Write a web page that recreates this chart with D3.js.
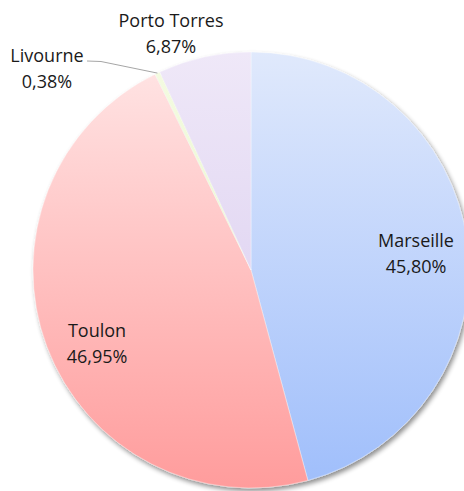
<!DOCTYPE html>
<html lang="fr">
<head>
    <meta charset="UTF-8">
    <title>Répartition par port</title>
    <script src="https://d3js.org/d3.v7.min.js"></script>
    <style>
        body { margin: 0; background: #fff; }
        text { font-family: "Open Sans", sans-serif; font-size: 18px; fill: #1a1a1a; }
    </style>
</head>
<body>
    <svg width="464" height="491"></svg>
    <script>
        // data
        const ports = ["Marseille", "Toulon", "Livourne", "Porto Torres"];
        const shares = [45.80, 46.95, 0.38, 6.87];
        const colorsTop = ["#e0e9fc", "#ffe6e6", "#f4fbe2", "#efe8f8"];
        const colorsBottom = ["#9fbefb", "#ff9c9c", "#e6f5c4", "#d6c8ee"];

        const svg = d3.select("svg");
        const cx = 251, cy = 270, r = 218;

        const defs = svg.append("defs");
        ports.forEach((p, i) => {
            // gradient in the group's own coords (centred on the pie)
            const g = defs.append("linearGradient")
                .attr("id", "grad" + i)
                .attr("gradientUnits", "userSpaceOnUse")
                .attr("x1", 0).attr("y1", -r)
                .attr("x2", 0).attr("y2", r);
            g.append("stop").attr("offset", "0%").attr("stop-color", colorsTop[i]);
            g.append("stop").attr("offset", "100%").attr("stop-color", colorsBottom[i]);
        });

        const shadow = defs.append("filter").attr("id", "shadow")
            .attr("x", "-10%").attr("y", "-10%").attr("width", "120%").attr("height", "120%");
        shadow.append("feGaussianBlur").attr("in", "SourceAlpha").attr("stdDeviation", 2.5);
        shadow.append("feOffset").attr("dx", 2).attr("dy", 3).attr("result", "off");
        shadow.append("feComponentTransfer").append("feFuncA").attr("type", "linear").attr("slope", 0.45);
        const merge = shadow.append("feMerge");
        merge.append("feMergeNode");
        merge.append("feMergeNode").attr("in", "SourceGraphic");

        const pie = d3.pie().sort(null).value(d => d)(shares);
        const arc = d3.arc().innerRadius(0).outerRadius(r);

        const g = svg.append("g").attr("transform", `translate(${cx},${cy})`);

        const slices = g.append("g").attr("filter", "url(#shadow)");
        slices.selectAll("path")
            .data(pie)
            .enter().append("path")
            .attr("d", arc)
            .attr("fill", (d, i) => `url(#grad${i})`)
            .attr("stroke", "rgba(255,255,255,0.6)")
            .attr("stroke-width", 0.6);

        // label baselines (relative to the pie centre)
        const labelPos = [
            [165, -23],
            [-154, 67],
            [-204, -208],
            [-80, -243]
        ];
        const fmt = v => d3.format(".2f")(v).replace(".", ",") + "%";

        ports.forEach((p, i) => {
            const t = g.append("text")
                .attr("text-anchor", "middle")
                .attr("x", labelPos[i][0])
                .attr("y", labelPos[i][1]);
            t.append("tspan").attr("x", labelPos[i][0]).text(p);
            t.append("tspan").attr("x", labelPos[i][0]).attr("dy", 26).text(fmt(shares[i]));
        });

        // leader line for Livourne
        const liv = pie[2];
        const mid = (liv.startAngle + liv.endAngle) / 2;
        const ex = r * Math.sin(mid), ey = -r * Math.cos(mid);
        g.append("path")
            .attr("d", `M${-164},${-209} L${-150},${-208.5} L${ex},${ey}`)
            .attr("fill", "none")
            .attr("stroke", "#a6a6a6")
            .attr("stroke-width", 1);
    </script>
</body>
</html>
